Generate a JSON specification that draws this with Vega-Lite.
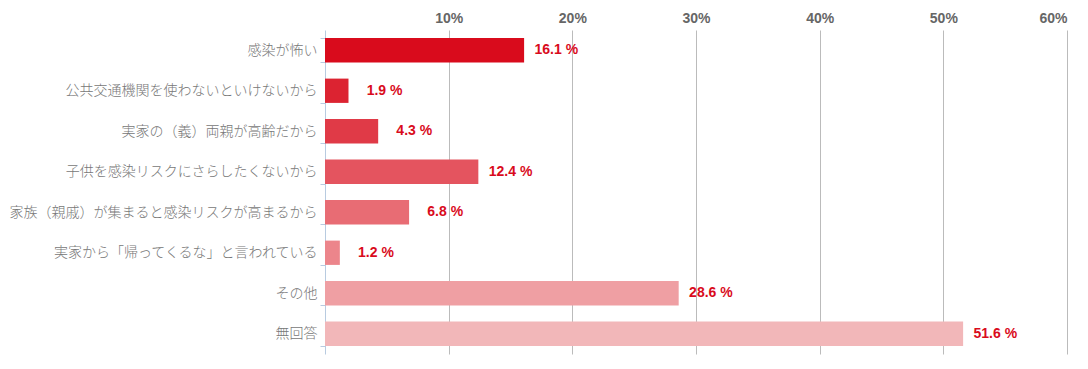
{
  "$schema": "https://vega.github.io/schema/vega-lite/v6.json",
  "width": 742,
  "height": 324,
  "padding": {"left": 5, "top": 5, "right": 10, "bottom": 5},
  "background": "white",
  "data": {
    "values": [
      {"label": "感染が怖い", "value": 16.1},
      {"label": "公共交通機関を使わないといけないから", "value": 1.9},
      {"label": "実家の（義）両親が高齢だから", "value": 4.3},
      {"label": "子供を感染リスクにさらしたくないから", "value": 12.4},
      {"label": "家族（親戚）が集まると感染リスクが高まるから", "value": 6.8},
      {"label": "実家から「帰ってくるな」と言われている", "value": 1.2},
      {"label": "その他", "value": 28.6},
      {"label": "無回答", "value": 51.6}
    ]
  },
  "config": {
    "view": {"stroke": null},
    "font": "Liberation Sans"
  },
  "encoding": {
    "y": {
      "field": "label",
      "type": "nominal",
      "sort": null,
      "scale": {"paddingInner": 0.4, "paddingOuter": 0.2},
      "axis": {
        "title": null,
        "tickBand": "extent",
        "tickSize": 5,
        "tickColor": "#b8cbe0",
        "domainColor": "#b8cbe0",
        "labelPadding": 3,
        "labelFont": "Noto Sans CJK JP",
        "labelFontSize": 14,
        "labelFontWeight": 300,
        "labelColor": "#777777",
        "labelLimit": 400,
        "minExtent": 320,
        "maxExtent": 320
      }
    },
    "x": {
      "field": "value",
      "type": "quantitative",
      "scale": {"domain": [0, 60], "nice": false},
      "axis": {
        "orient": "top",
        "title": null,
        "values": [10, 20, 30, 40, 50, 60],
        "labelExpr": "datum.value + '%'",
        "ticks": false,
        "domain": false,
        "grid": true,
        "gridColor": "#bbbbbb",
        "gridWidth": 1,
        "labelFont": "Liberation Sans",
        "labelFontSize": 14,
        "labelFontWeight": "bold",
        "labelColor": "#666666",
        "labelPadding": 5,
        "minExtent": 25,
        "maxExtent": 25
      }
    }
  },
  "layer": [
    {
      "mark": {"type": "bar"},
      "encoding": {
        "color": {
          "field": "label",
          "type": "nominal",
          "sort": null,
          "legend": null,
          "scale": {
            "domain": ["感染が怖い", "公共交通機関を使わないといけないから", "実家の（義）両親が高齢だから", "子供を感染リスクにさらしたくないから", "家族（親戚）が集まると感染リスクが高まるから", "実家から「帰ってくるな」と言われている", "その他", "無回答"],
            "range": ["#d90b1c", "#dc2331", "#e03a47", "#e4545f", "#e86c74", "#ec858b", "#ef9fa3", "#f2b7b9"]
          }
        }
      }
    },
    {
      "transform": [{"calculate": "format(datum.value, '.1f') + ' %'", "as": "txt"}],
      "mark": {"type": "text", "align": "right", "baseline": "middle", "dx": 54, "fontSize": 14, "fontWeight": "bold", "color": "#d90b1c", "font": "Liberation Sans"},
      "encoding": {
        "text": {"field": "txt", "type": "nominal"}
      }
    }
  ]
}
